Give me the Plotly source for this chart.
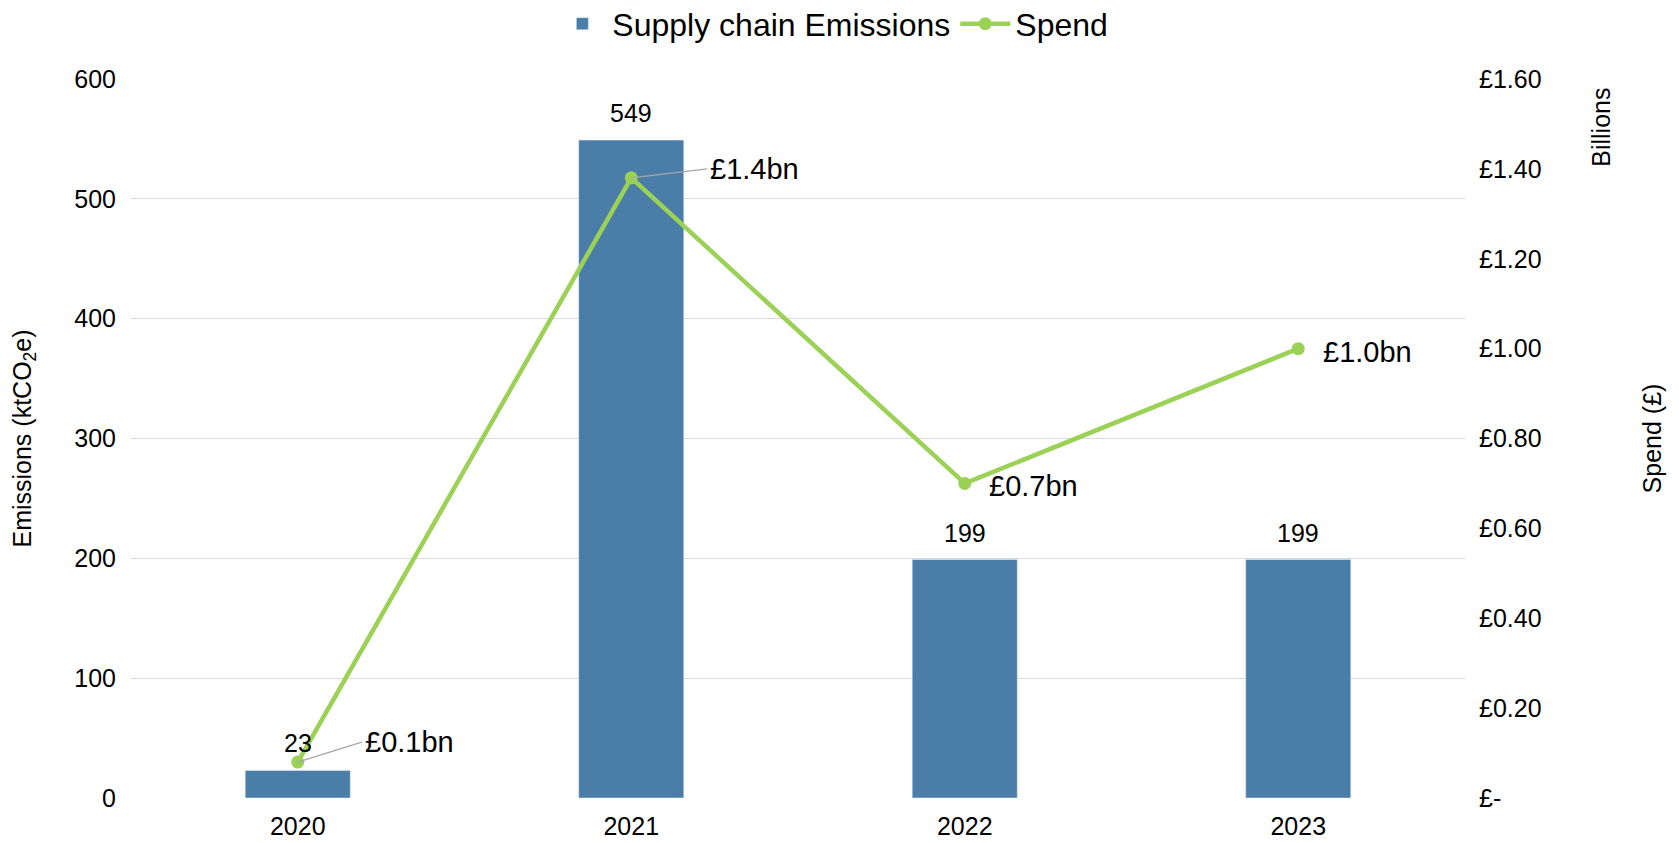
import plotly.graph_objects as go

years = ["2020", "2021", "2022", "2023"]
emissions = [23, 549, 199, 199]
spend_bn = [0.08, 1.38, 0.70, 1.00]
spend_labels = ["£0.1bn", "£1.4bn", "£0.7bn", "£1.0bn"]
spend_tickvals = [0, 0.2, 0.4, 0.6, 0.8, 1.0, 1.2, 1.4, 1.6]
spend_ticktext = ["£-", "£0.20", "£0.40", "£0.60", "£0.80", "£1.00", "£1.20", "£1.40", "£1.60"]

BAR = "#4A7DA7"
GREEN = "#9BD154"
FONT = "Liberation Sans, Arial, sans-serif"

fig = go.Figure()
fig.add_trace(go.Bar(x=years, y=emissions, name="Supply chain Emissions",
                     marker=dict(color=BAR)))
fig.add_trace(go.Scatter(x=years, y=spend_bn, name="Spend", mode="lines+markers",
                         line=dict(color=GREEN, width=4.5),
                         marker=dict(color=GREEN, size=13), yaxis="y2"))

# annotations reference categories by their index on the category axis
ann = []
for i, v in enumerate(emissions):
    ann.append(dict(x=i, y=v, xref="x", yref="y", text=str(v), showarrow=False,
                    yanchor="middle", yshift=27, font=dict(size=25, color="#000")))
offsets = [(64, -20, True), (76, -9, True), (22, 3, False), (23, 3, False)]
for i, (v, lab, (dx, dy, arrow)) in enumerate(zip(spend_bn, spend_labels, offsets)):
    if arrow:
        ann.append(dict(x=i, y=v, xref="x", yref="y2", text=lab, showarrow=True,
                        ax=dx, ay=dy, xanchor="left", arrowhead=0, arrowwidth=1.3,
                        arrowcolor="#A6A6A6", standoff=0, borderpad=2,
                        font=dict(size=29, color="#000")))
    else:
        ann.append(dict(x=i, y=v, xref="x", yref="y2", text=lab, showarrow=False,
                        xanchor="left", xshift=dx, yshift=-dy,
                        font=dict(size=29, color="#000")))
ann.append(dict(x=1.102, y=0.99, xref="paper", yref="paper", text="Billions",
                showarrow=False, textangle=-90, xanchor="center", yanchor="top",
                font=dict(size=25, color="#000")))

fig.update_layout(
    width=1663, height=835,
    margin=dict(l=123, r=206, t=71, b=45, autoexpand=False),
    paper_bgcolor="white", plot_bgcolor="white",
    font=dict(family=FONT, size=25, color="#000"),
    showlegend=True,
    legend=dict(orientation="h", xref="container", yref="container",
                x=0.496, y=0.981, xanchor="center", yanchor="middle",
                font=dict(size=32), itemwidth=50, traceorder="normal"),
    xaxis=dict(type="category", range=[-0.5, 3.5], showgrid=False, showline=False,
               ticks="", ticklabelstandoff=11, tickfont=dict(size=25),
               automargin=False),
    yaxis=dict(range=[0, 600], dtick=100, showgrid=True, gridcolor="#D9D9D9",
               gridwidth=1, zeroline=False, showline=False, ticks="",
               ticklabelstandoff=14, tickfont=dict(size=25), automargin=False,
               title=dict(text="Emissions (ktCO<sub>2</sub>e)", standoff=35,
                          font=dict(size=25))),
    yaxis2=dict(range=[0, 1.6], overlaying="y", side="right", showgrid=False,
                zeroline=False, showline=False, ticks="", automargin=False,
                tickvals=spend_tickvals, ticktext=spend_ticktext,
                ticklabelstandoff=13, tickfont=dict(size=25),
                title=dict(text="Spend (£)", standoff=102, font=dict(size=25))),
    annotations=ann,
    bargap=0.685,
)

fig.write_html("out.html")
